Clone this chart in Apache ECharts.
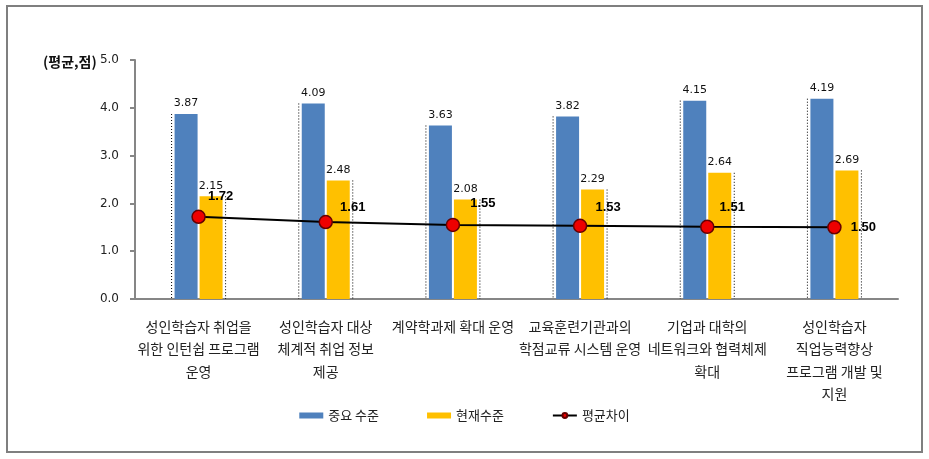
<!DOCTYPE html>
<html><head><meta charset="utf-8">
<script src="https://cdn.jsdelivr.net/npm/echarts@6/dist/echarts.min.js"></script>
<style>html,body{margin:0;padding:0;background:#fff}#c{width:929px;height:459px}</style>
</head><body><div id="c"></div>
<script>
const categories = [
  "성인학습자 취업을\n위한 인턴쉽 프로그램\n운영",
  "성인학습자 대상\n체계적 취업 정보\n제공",
  "계약학과제 확대 운영",
  "교육훈련기관과의\n학점교류 시스템 운영",
  "기업과 대학의\n네트워크와 협력체제\n확대",
  "성인학습자\n직업능력향상\n프로그램 개발 및\n지원"
];
const importance = [3.87, 4.09, 3.63, 3.82, 4.15, 4.19];
const current = [2.15, 2.48, 2.08, 2.29, 2.64, 2.69];
const gap = [1.72, 1.61, 1.55, 1.53, 1.51, 1.50];
const seriesNames = ["중요 수준", "현재수준", "평균차이"];
const yTicks = [0, 1, 2, 3, 4, 5];
const gapLabelOffsets = [[22,-20],[27,-15],[30,-21],[28,-18],[25,-19],[29,0]];

const BW = 23, BG = 2;
const chart = echarts.init(document.getElementById('c'));
const dotted = (side) => ({
  type: 'custom', silent: true, z: 1,
  data: (side === 'L' ? importance : current).map((v, i) => [i, v]),
  renderItem: function (params, api) {
    const top = api.coord([api.value(0), api.value(1)]);
    const base = api.coord([api.value(0), 0]);
    const x = side === 'L' ? top[0] - BG / 2 - BW - 3 : top[0] + BG / 2 + BW + 3;
    return { type: 'line', shape: { x1: x, y1: top[1], x2: x, y2: base[1] },
      style: { stroke: '#000', lineWidth: 1, lineDash: [1, 2] } };
  }
});
chart.setOption({
  animation: false,
  title: { text: '(평균,점)', left: 38, top: 50,
    textStyle: { fontFamily: 'Noto Sans CJK KR', fontSize: 14, fontWeight: 'bold', color: '#111' } },
  graphic: [{ type: 'rect', shape: { x: 7, y: 6, width: 915, height: 446 },
    style: { fill: 'none', stroke: '#7f7f7f', lineWidth: 2 }, silent: true }],
  grid: { left: 135, right: 31, top: 60, bottom: 160, containLabel: false },
  legend: {
    bottom: 32, left: 'center', itemGap: 48, itemWidth: 24, itemHeight: 6,
    textStyle: { fontFamily: 'Noto Sans CJK KR', fontSize: 13, color: '#222' },
    data: [
      { name: seriesNames[0], icon: 'rect' },
      { name: seriesNames[1], icon: 'rect' },
      { name: seriesNames[2] }
    ]
  },
  xAxis: {
    type: 'category', data: categories,
    axisLine: { lineStyle: { color: '#868686', width: 2 } },
    axisTick: { show: false },
    axisLabel: { interval: 0, margin: 16, lineHeight: 22.5, fontFamily: 'Noto Sans CJK KR',
      fontSize: 14, color: '#222', align: 'center' }
  },
  yAxis: {
    type: 'value', min: 0, max: 5, interval: 1,
    axisLine: { show: true, lineStyle: { color: '#868686', width: 2 } },
    axisTick: { show: true, length: 5, lineStyle: { color: '#868686', width: 2 } },
    splitLine: { show: false },
    axisLabel: { margin: 16, fontFamily: 'DejaVu Sans', fontSize: 12, color: '#222',
      formatter: v => yTicks.includes(v) ? v.toFixed(1) : '' }
  },
  series: [
    { name: seriesNames[0], type: 'bar', data: importance, barWidth: BW, barGap: (BG / BW * 100) + '%',
      itemStyle: { color: '#4F81BD' }, z: 2,
      label: { show: true, position: 'top', distance: 5, fontFamily: 'DejaVu Sans', fontSize: 11, color: '#111',
        formatter: p => p.value.toFixed(2) } },
    { name: seriesNames[1], type: 'bar', data: current, barWidth: BW,
      itemStyle: { color: '#FFC000' }, z: 2,
      label: { show: true, position: 'top', distance: 5, fontFamily: 'DejaVu Sans', fontSize: 11, color: '#111',
        formatter: p => p.value.toFixed(2) } },
    { name: seriesNames[2], type: 'line', z: 5,
      data: gap.map((v, i) => ({ value: v, label: { offset: gapLabelOffsets[i] } })),
      lineStyle: { color: '#000', width: 2 },
      itemStyle: { color: '#EE0000', borderColor: '#600', borderWidth: 1.5 },
      symbol: 'circle', symbolSize: 13,
      label: { show: true, position: 'inside', fontFamily: 'Liberation Sans', fontWeight: 'bold', fontSize: 13, color: '#000',
        formatter: p => p.value.toFixed(2) } },
    dotted('L'), dotted('R')
  ]
});
</script></body></html>
